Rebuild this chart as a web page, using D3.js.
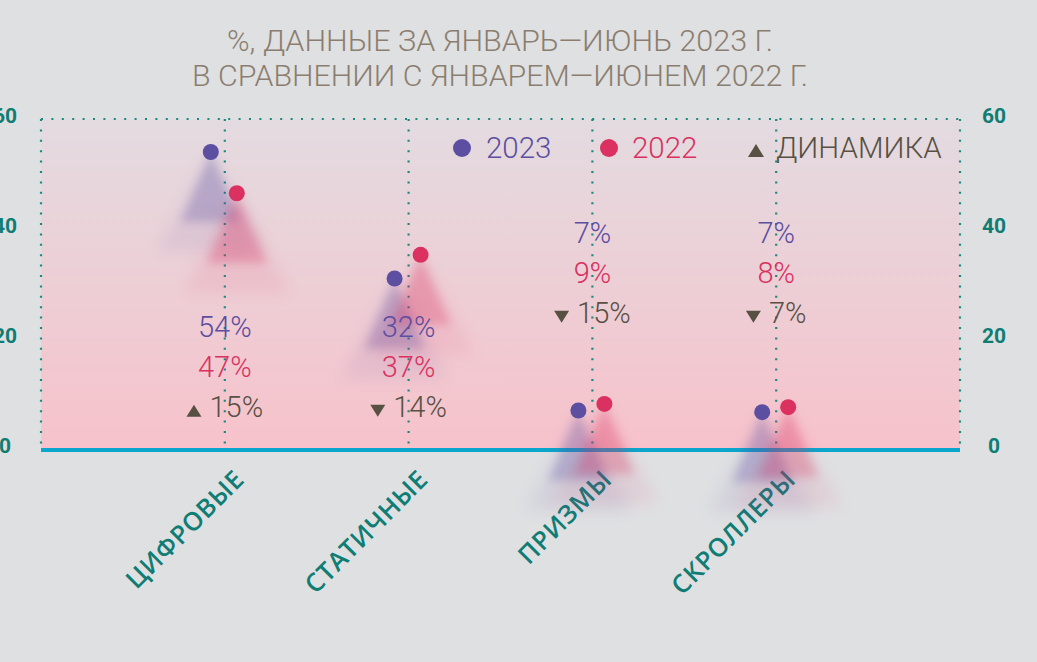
<!DOCTYPE html>
<html lang="ru">
<head>
<meta charset="utf-8">
<title>Доли по типам</title>
<script src="https://d3js.org/d3.v7.min.js"></script>
<style>
  body { margin: 0; background: #dfe0e2; }
  svg { display: block; }
</style>
</head>
<body>
<script>
// data
var categories = ["ЦИФРОВЫЕ", "СТАТИЧНЫЕ", "ПРИЗМЫ", "СКРОЛЛЕРЫ"];
var share2023 = [54, 31, 7, 6.7];
var share2022 = [46.5, 35.3, 8.2, 7.6];
var label2023 = ["54%", "32%", "7%", "7%"];
var label2022 = ["47%", "37%", "9%", "8%"];
var dynamics = ["15%", "14%", "15%", "7%"];
var dynDir = ["up", "down", "down", "down"];
var yTicks = [0, 20, 40, 60];
var titleLines = ["%, ДАННЫЕ ЗА ЯНВАРЬ—ИЮНЬ 2023 Г.", "В СРАВНЕНИИ С ЯНВАРЕМ—ИЮНЕМ 2022 Г."];

var w = 1037, h = 662;
var plotL = 41, plotR = 960, plotT = 119, plotB = 449;

var c2023 = "#5c4ea1", c2022 = "#da3161", cDyn = "#575043", teal = "#0f7d74";

var x = d3.scalePoint().domain(categories).range([plotL, plotR]).padding(1);
var y = d3.scaleLinear().domain([0, 60]).range([plotB, plotT]);

var svg = d3.select("body").append("svg").attr("width", w).attr("height", h);
svg.append("rect").attr("width", w).attr("height", h).attr("fill", "#dfe0e2");

var defs = svg.append("defs");
var bg = defs.append("linearGradient").attr("id", "bg").attr("x1", 0).attr("y1", 0).attr("x2", 0).attr("y2", 1);
bg.append("stop").attr("offset", "0%").attr("stop-color", "#e3dbe0");
bg.append("stop").attr("offset", "100%").attr("stop-color", "#f7c2cb");
defs.append("filter").attr("id", "blur").attr("x", "-50%").attr("y", "-50%").attr("width", "200%").attr("height", "200%")
  .append("feGaussianBlur").attr("stdDeviation", 5);
defs.append("filter").attr("id", "blur2").attr("x", "-50%").attr("y", "-50%").attr("width", "200%").attr("height", "200%")
  .append("feGaussianBlur").attr("stdDeviation", 8);

// title
svg.selectAll("text.title").data(titleLines).enter().append("text")
  .attr("class", "title")
  .attr("x", 500).attr("y", function(d, i) { return 51 + i * 35; })
  .attr("text-anchor", "middle")
  .attr("textLength", function(d, i) { return i == 0 ? 546 : 616; })
  .attr("lengthAdjust", "spacingAndGlyphs")
  .style("font-family", "Roboto").style("font-weight", 300).style("font-size", "29px")
  .attr("fill", "#8b7e70")
  .text(function(d) { return d; });

// plot area
svg.append("rect").attr("x", plotL).attr("y", plotT).attr("width", plotR - plotL).attr("height", plotB - plotT)
  .attr("fill", "url(#bg)");

// dotted grid
var gridX = [plotL].concat(categories.map(function(d) { return x(d); })).concat([plotR]);
svg.selectAll("line.vgrid").data(gridX).enter().append("line")
  .attr("class", "vgrid")
  .attr("x1", function(d) { return d; }).attr("x2", function(d) { return d; })
  .attr("y1", plotT).attr("y2", plotB)
  .attr("stroke", "#178a80").attr("stroke-width", 2.2).attr("stroke-dasharray", "2,8.4");
svg.append("line").attr("x1", plotL).attr("x2", plotR).attr("y1", plotT).attr("y2", plotT)
  .attr("stroke", "#178a80").attr("stroke-width", 2.2).attr("stroke-dasharray", "2,8.4");

// baseline
svg.append("line").attr("x1", plotL).attr("x2", plotR).attr("y1", y(0) + 1).attr("y2", y(0) + 1)
  .attr("stroke", "#0aa6cc").attr("stroke-width", 4);

// y axis labels both sides
function yLabels(xpos) {
  svg.append("g").selectAll("text").data(yTicks).enter().append("text")
    .attr("x", xpos).attr("y", function(d) { return y(d) + 4; })
    .attr("text-anchor", "middle")
    .style("font-family", "Roboto").style("font-weight", 700).style("font-size", "21px")
    .attr("fill", teal)
    .text(function(d) { return d; });
}
yLabels(5);
yLabels(994);

// x labels
svg.selectAll("text.xlab").data(categories).enter().append("text")
  .attr("class", "xlab")
  .attr("transform", function(d) { return "translate(" + (x(d) + 21) + "," + 481 + ") rotate(-45)"; })
  .attr("text-anchor", "end")
  .style("font-family", "Open Sans").style("font-weight", 600).style("font-size", "25.5px")
  .style("letter-spacing", "0.6px")
  .attr("fill", teal)
  .text(function(d) { return d; });

// cones and dots
var series = [
  {vals: share2023, color: c2023, dx: -14},
  {vals: share2022, color: c2022, dx: 12}
];
function cone(cx, cy, hw, hh) {
  return "M" + cx + "," + cy + "L" + (cx - hw) + "," + (cy + hh) + "L" + (cx + hw) + "," + (cy + hh) + "Z";
}
series.forEach(function(s) {
  categories.forEach(function(c, i) {
    var cx = x(c) + s.dx, cy = y(s.vals[i]);
    svg.append("path").attr("d", cone(cx, cy, 54, 100)).attr("fill", s.color)
      .attr("opacity", 0.09).attr("filter", "url(#blur2)");
    svg.append("path").attr("d", cone(cx, cy, 30, 70)).attr("fill", s.color)
      .attr("opacity", 0.28).attr("filter", "url(#blur)");
  });
});
series.forEach(function(s) {
  svg.append("g").selectAll("circle").data(categories).enter().append("circle")
    .attr("cx", function(d) { return x(d) + s.dx; })
    .attr("cy", function(d, i) { return y(s.vals[i]); })
    .attr("r", 8)
    .attr("fill", s.color);
});

// triangle marker, base at 0, pointing up
function triPath(tw, th) {
  return "M0," + (-th) + "L" + (tw / 2) + ",0L" + (-tw / 2) + ",0Z";
}

// value labels
categories.forEach(function(c, i) {
  var cx = x(c);
  var base = share2023[i] > 20 ? y(20.4) : y(37.5);
  var g = svg.append("g").style("font-family", "Roboto").style("font-weight", 300).style("font-size", "29px");
  g.append("text").attr("x", cx).attr("y", base).attr("text-anchor", "middle").attr("fill", c2023).text(label2023[i]);
  g.append("text").attr("x", cx).attr("y", base + 40).attr("text-anchor", "middle").attr("fill", c2022).text(label2022[i]);
  var t = g.append("text").attr("y", base + 80).attr("fill", cDyn).text(dynamics[i]);
  var tw = t.node().getComputedTextLength();
  var total = 15 + 8 + tw;
  var x0 = cx - total / 2;
  t.attr("x", x0 + 23);
  var up = dynDir[i] == "up";
  g.append("path").attr("d", triPath(15, 12))
    .attr("transform", up ? "translate(" + (x0 + 7.5) + "," + (base + 80) + ")"
                          : "translate(" + (x0 + 7.5) + "," + (base + 80 - 12) + ") scale(1,-1)")
    .attr("fill", cDyn);
});

// legend
var leg = svg.append("g").style("font-family", "Roboto").style("font-weight", 300).style("font-size", "29.5px");
leg.append("circle").attr("cx", 462).attr("cy", 148).attr("r", 9).attr("fill", c2023);
leg.append("text").attr("x", 486).attr("y", 158).attr("fill", c2023).text("2023");
leg.append("circle").attr("cx", 609).attr("cy", 148).attr("r", 9).attr("fill", c2022);
leg.append("text").attr("x", 632).attr("y", 158).attr("fill", c2022).text("2022");
leg.append("path").attr("d", triPath(16, 13)).attr("transform", "translate(756,157)").attr("fill", cDyn);
leg.append("text").attr("x", 776).attr("y", 158).attr("fill", cDyn).text("ДИНАМИКА");
</script>
</body>
</html>
